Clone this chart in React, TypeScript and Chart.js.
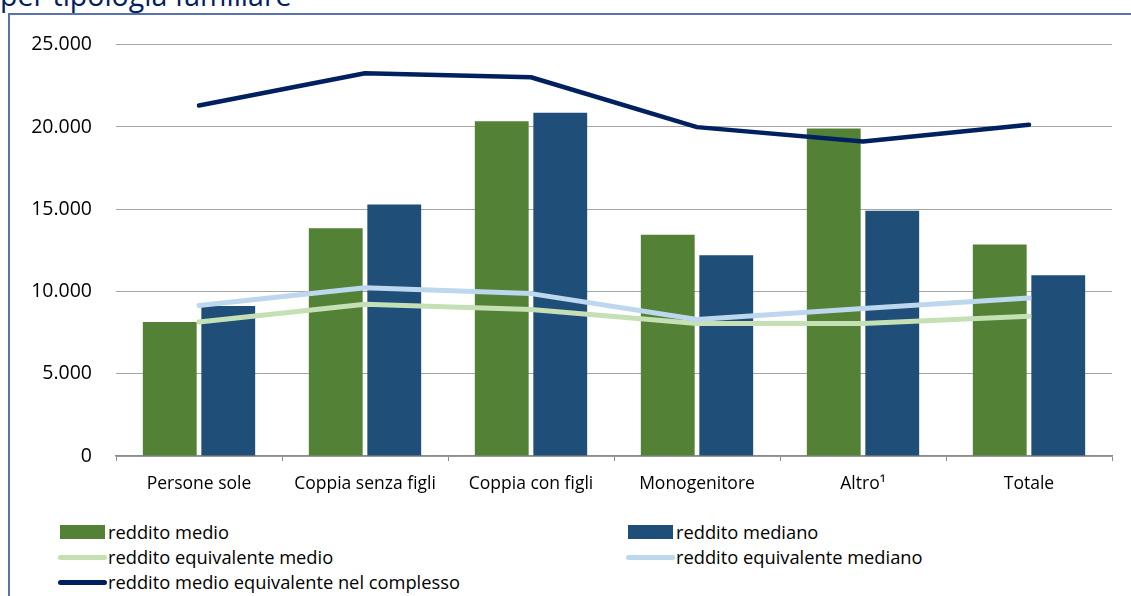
import React, { useEffect, useRef } from "react";
import { Chart, registerables } from "chart.js";

Chart.register(...registerables);

const categories = ["Persone sole", "Coppia senza figli", "Coppia con figli", "Monogenitore", "Altro¹", "Totale"];
const redditoMedio = [8150, 13850, 20350, 13450, 19900, 12850];
const redditoMediano = [9120, 15290, 20870, 12200, 14900, 10980];
const equivalenteMedio = [8150, 9220, 8900, 8050, 8050, 8500];
const equivalenteMediano = [9150, 10220, 9870, 8300, 8960, 9610];
const medioComplesso = [21300, 23260, 23020, 19990, 19120, 20130];

const seriesNames = [
  "reddito medio",
  "reddito mediano",
  "reddito equivalente medio",
  "reddito equivalente mediano",
  "reddito medio equivalente nel complesso",
];
const colors = ["#538135", "#1F4E79", "#C5E0B4", "#BDD7EE", "#002060"];

const FONT = "'Open Sans', 'Noto Sans', sans-serif";

function fmt(v: number): string {
  const s = Math.round(v).toString();
  return s.replace(/\B(?=(\d{3})+(?!\d))/g, ".");
}

function LegendItem({ label, color, kind, left, top }: { label: string; color: string; kind: string; left: number; top: number }) {
  const marker =
    kind === "bar" ? (
      <div style={{ position: "absolute", left: 0, top: -7, width: 45, height: 14, background: color }} />
    ) : (
      <div style={{ position: "absolute", left: -2, top: -2.5, width: 49, height: 5, borderRadius: 3, background: color }} />
    );
  return (
    <div style={{ position: "absolute", left, top }}>
      {marker}
      <div
        style={{
          position: "absolute",
          left: 48,
          top: -13,
          whiteSpace: "nowrap",
          font: `18.3px ${FONT}`,
          lineHeight: "26px",
          color: "#000",
        }}
      >
        {label}
      </div>
    </div>
  );
}

export default function App() {
  const ref = useRef<HTMLCanvasElement | null>(null);

  useEffect(() => {
    if (!ref.current) return;
    const chart = new Chart(ref.current, {
      type: "bar",
      data: {
        labels: categories,
        datasets: [
          {
            type: "line",
            label: seriesNames[4],
            data: medioComplesso,
            borderColor: colors[4],
            backgroundColor: colors[4],
            borderWidth: 4.5,
            pointRadius: 0,
            tension: 0,
            borderCapStyle: "round",
            borderJoinStyle: "round",
            order: 0,
          },
          {
            type: "line",
            label: seriesNames[3],
            data: equivalenteMediano,
            borderColor: colors[3],
            backgroundColor: colors[3],
            borderWidth: 5,
            pointRadius: 0,
            tension: 0,
            borderCapStyle: "round",
            borderJoinStyle: "round",
            order: 1,
          },
          {
            type: "line",
            label: seriesNames[2],
            data: equivalenteMedio,
            borderColor: colors[2],
            backgroundColor: colors[2],
            borderWidth: 5,
            pointRadius: 0,
            tension: 0,
            borderCapStyle: "round",
            borderJoinStyle: "round",
            order: 2,
          },
          {
            type: "bar",
            label: seriesNames[0],
            data: redditoMedio,
            backgroundColor: colors[0],
            categoryPercentage: 0.705,
            barPercentage: 0.92,
            order: 3,
          },
          {
            type: "bar",
            label: seriesNames[1],
            data: redditoMediano,
            backgroundColor: colors[1],
            categoryPercentage: 0.705,
            barPercentage: 0.92,
            order: 3,
          },
        ],
      },
      options: {
        animation: false,
        responsive: true,
        maintainAspectRatio: false,
        layout: { padding: { top: 0, right: 19, left: 0, bottom: 0 } },
        plugins: { legend: { display: false }, tooltip: { enabled: false }, title: { display: false } },
        scales: {
          x: {
            afterFit: (s: any) => {
              s.height = 39;
            },
            grid: {
              display: true,
              drawOnChartArea: false,
              drawTicks: true,
              tickLength: 5,
              color: "#8c8c8c",
              offset: true,
            },
            border: { display: true, color: "#8c8c8c", width: 1.5 },
            ticks: { color: "#000", font: { family: FONT, size: 17.5 }, padding: 13, maxRotation: 0, autoSkip: false },
          },
          y: {
            min: 0,
            max: 25000,
            afterFit: (s: any) => {
              s.width = 106;
            },
            grid: { color: "#a6a6a6", lineWidth: 1, drawTicks: false },
            border: { display: false },
            ticks: {
              stepSize: 5000,
              color: "#000",
              font: { family: FONT, size: 19.5 },
              padding: 24,
              callback: (v: any) => fmt(Number(v)),
            },
          },
        },
      },
    });
    return () => chart.destroy();
  }, []);

  return (
    <div style={{ position: "absolute", left: 0, top: 0, width: 1131, height: 596, overflow: "hidden", background: "#fff" }}>
      <div
        style={{
          position: "absolute",
          left: 0,
          top: -24,
          font: `28.5px ${FONT}`,
          color: "#002060",
          whiteSpace: "nowrap",
        }}
      >
        per tipologia familiare
      </div>
      <div
        style={{
          position: "absolute",
          left: 8,
          top: 13,
          width: 1200,
          height: 700,
          border: "2px solid #5a73ad",
          boxSizing: "border-box",
        }}
      />
      <div style={{ position: "absolute", left: 10, top: 9, width: 1121, height: 486 }}>
        <canvas ref={ref} />
      </div>
      <LegendItem label={seriesNames[0]} color={colors[0]} kind="bar" left={60} top={532} />
      <LegendItem label={seriesNames[2]} color={colors[2]} kind="line" left={60} top={557} />
      <LegendItem label={seriesNames[4]} color={colors[4]} kind="line" left={60} top={582} />
      <LegendItem label={seriesNames[1]} color={colors[1]} kind="bar" left={628} top={532} />
      <LegendItem label={seriesNames[3]} color={colors[3]} kind="line" left={628} top={557} />
    </div>
  );
}
